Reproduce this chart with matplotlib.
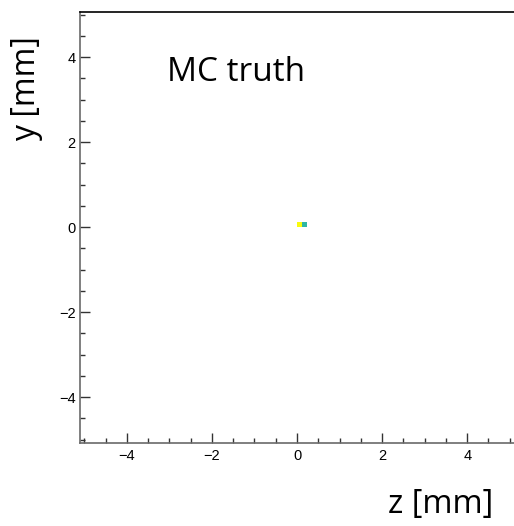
import numpy as np
import matplotlib
matplotlib.use("Agg")
import matplotlib.pyplot as plt
from matplotlib.colors import LinearSegmentedColormap
from matplotlib.ticker import MultipleLocator

# data: 2D histogram of MC truth positions (z, y) in mm
z_edges = [0.0, 0.12, 0.24]
y_edges = [0.0, 0.12]
counts = [[2, 1]]  # rows: y bins, cols: z bins
xlim = (-5.1, 5.1)
ylim = (-5.08, 5.06)
label_text = "MC truth"
xlabel = "z [mm]"
ylabel = "y [mm]"

# ROOT kBird-like palette
r = [0.2082, 0.0592, 0.0780, 0.0232, 0.1802, 0.5301, 0.8186, 0.9956, 0.9764]
g = [0.1664, 0.3599, 0.5041, 0.6419, 0.7178, 0.7492, 0.7328, 0.7862, 0.9832]
b = [0.5293, 0.8684, 0.8385, 0.7914, 0.6425, 0.4662, 0.3499, 0.1968, 0.0539]
bird = LinearSegmentedColormap.from_list("bird", list(zip(r, g, b)))

W, H = 514, 526
fig = plt.figure(figsize=(W / 100, H / 100), dpi=100)
ax = fig.add_axes([80 / W, (H - 443) / H, 434 / W, (443 - 12) / H])

Z = np.array(counts, dtype=float)
Zm = np.ma.masked_where(Z <= 0, Z)
ax.pcolormesh(z_edges, y_edges, Zm, cmap=bird, vmin=0, vmax=2)

ax.set_xlim(*xlim)
ax.set_ylim(*ylim)

for s in ["bottom", "left"]:
    ax.spines[s].set_color("#6a6a6a")
    ax.spines[s].set_linewidth(1.2)
ax.spines["top"].set_color("black")
ax.spines["top"].set_linewidth(1.2)
ax.spines["right"].set_visible(False)

ax.xaxis.set_major_locator(MultipleLocator(2))
ax.xaxis.set_minor_locator(MultipleLocator(0.5))
ax.yaxis.set_major_locator(MultipleLocator(2))
ax.yaxis.set_minor_locator(MultipleLocator(0.5))
ax.tick_params(which="both", direction="in", color="#333333", width=1.0,
               top=False, right=False, labelsize=10.5)
ax.tick_params(which="major", length=7.5)
ax.tick_params(which="minor", length=3.8)
for lab in ax.get_xticklabels() + ax.get_yticklabels():
    lab.set_fontfamily(["Liberation Sans", "DejaVu Sans"])
ax.tick_params(axis="x", pad=4)
ax.tick_params(axis="y", pad=3)

fig.text(167 / W, 1 - 72 / H, label_text, fontsize=24,
         family=["Open Sans", "DejaVu Sans"], va="center", ha="left")
fig.text(493 / W, 1 - 505 / H, xlabel, fontsize=23.5,
         family=["Open Sans", "DejaVu Sans"], va="center", ha="right")
fig.text(27 / W, 1 - 36 / H, ylabel, fontsize=23,
         family=["Open Sans", "DejaVu Sans"], rotation=90, va="top", ha="center")

fig.savefig("out.png", dpi=100)
